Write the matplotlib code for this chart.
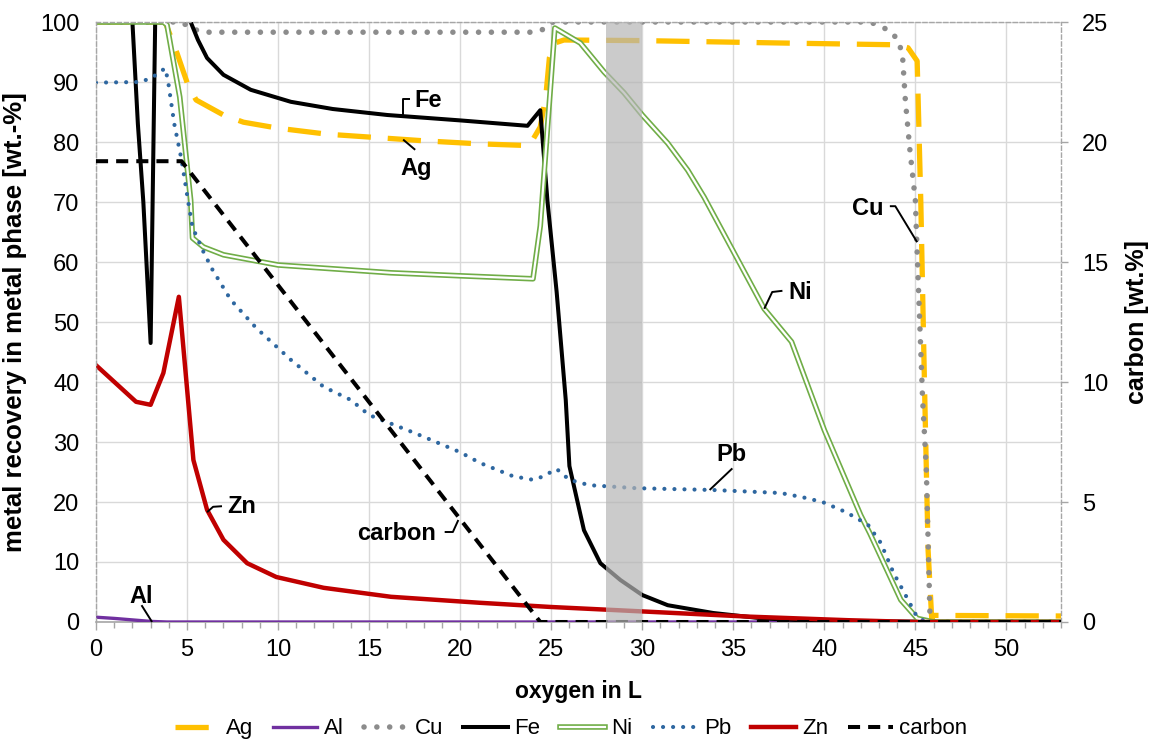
import matplotlib
matplotlib.use('Agg')
import matplotlib.pyplot as plt
import matplotlib.patheffects as pe
from matplotlib.ticker import MultipleLocator

plt.rcParams['font.family'] = ['Liberation Sans', 'DejaVu Sans']

# ---------------- data ----------------
ag_x = [0, 3.8, 4.45, 5.05, 5.5, 7, 8.1, 10, 12.7, 15.6, 18, 21, 23.8, 24.4, 24.7, 24.9, 25.2, 25.7,
        30, 37.6, 44, 44.6, 45.1, 45.3, 45.5, 45.7, 45.9, 46.0, 53]
ag_y = [100, 100, 94.8, 89.5, 87, 84.5, 83.3, 82.3, 81.3, 80.7, 80.2, 79.7, 79.4, 82.5, 87.5, 94, 96.5, 97,
        96.9, 96.5, 96.2, 95.7, 93.5, 70, 40, 12, 0.5, 1.1, 1.0]

al_x = [0, 1, 2, 3, 3.9, 53]
al_y = [0.8, 0.6, 0.35, 0.1, 0, 0]

cu_x = [0, 4.7, 5.3, 6.1, 24.0, 24.6, 25.1, 42.5, 43.1, 43.7, 44.1, 44.3, 44.45, 44.7, 45.0, 45.1,
        45.4, 45.6, 45.8, 46, 53]
cu_y = [100, 100, 98.8, 98.3, 98.3, 98.8, 100, 100, 99.3, 98.3, 96.7, 94.2, 87, 78.7, 70.3, 61.5,
        37, 25.8, 1.5, 0, 0]

fe_x = [0, 2.0, 2.3, 2.6, 3.0, 3.25, 3.5, 4.5, 5.2, 5.6, 6.1, 7, 8.5, 10.7, 13, 16, 20, 23.7, 24.4,
        24.8, 25.3, 25.8, 26.0, 26.8, 27.7, 28.8, 30, 31.4, 33.9, 36.6, 40, 53]
fe_y = [100, 100, 83, 70, 46.5, 100, 104, 104, 100, 97, 94, 91.2, 88.7, 86.7, 85.5, 84.5, 83.6, 82.7, 85.3,
        70, 55, 37, 26, 15.3, 9.8, 7, 4.5, 2.8, 1.5, 0.6, 0.1, 0]

ni_x = [0, 3.7, 3.9, 4.6, 5.2, 5.3, 5.9, 7, 10, 16.2, 20, 24, 24.4, 25.2, 26.6, 27.9, 29, 30, 31.4,
        32.5, 33.4, 36.7, 38.2, 40, 42, 42.5, 44.2, 45.1, 46, 53]
ni_y = [100, 100, 99.5, 87.5, 70.3, 64, 62.5, 61.2, 59.5, 58.2, 57.7, 57.2, 66, 99, 96.5, 91.7, 88.2,
        84.5, 79.8, 75.3, 70.8, 52.2, 46.7, 32, 17.8, 14.8, 3.7, 0.6, 0, 0]

pb_x = [0, 2.5, 3.2, 3.8, 3.95, 4.3, 4.7, 5.05, 5.3, 5.9, 6.4, 7.4, 8.8, 10.7, 12.5, 14, 15, 17.5, 20,
        21.1, 22.9, 24, 24.5, 25.3, 26, 27.1, 29.7, 33.9, 37.6, 38.8, 39.9, 41.2, 42.4, 43.1, 43.8,
        44.6, 45.1, 45.6, 53]
pb_y = [89.9, 90, 91, 92.3, 90.3, 83, 77, 70.3, 65.8, 61.7, 58.7, 53.7, 49, 43.7, 39.2, 37, 34.5, 31.5,
        28.3, 26.5, 24.3, 23.7, 24.2, 25.5, 23.7, 22.8, 22.3, 22, 21.5, 20.8, 20, 18.3, 16.2, 13.2,
        8.2, 3.7, 0.8, 0, 0]

zn_x = [0, 2.2, 3.0, 3.7, 4.55, 5.35, 6.1, 7, 8.3, 9.9, 12.5, 16.2, 21.1, 25, 28.4, 35.8, 41.3, 45, 53]
zn_y = [42.8, 36.7, 36.2, 41.5, 54.2, 27, 18.7, 13.7, 9.8, 7.5, 5.7, 4.2, 3.2, 2.5, 2.0, 0.9, 0.3, 0, 0]

carbon_x = [0, 4.7, 24.4, 53]
carbon_y = [19.2, 19.2, 0, 0]

band = (28, 30)

x_ticks = [0, 5, 10, 15, 20, 25, 30, 35, 40, 45, 50]
y_ticks = [0, 10, 20, 30, 40, 50, 60, 70, 80, 90, 100]
y2_ticks = [0, 5, 10, 15, 20, 25]

# label text, label position, leader polyline (data coords of left axis)
annotations = [
    ("Fe", (17.5, 86.9), 'left', [(16.85, 84.5), (16.85, 87.2), (17.25, 87.2)]),
    ("Ag", (17.6, 75.6), 'center', [(16.87, 80.4), (17.53, 78.7)]),
    ("Cu", (42.4, 69.0), 'center', [(43.6, 69.3), (43.9, 69.3), (45.1, 63.3)]),
    ("Ni", (38.65, 55.0), 'center', [(37.7, 55.2), (37.14, 55.0), (36.7, 52.2)]),
    ("Pb", (34.9, 28.0), 'center', [(34.95, 25.6), (33.7, 22.0)]),
    ("Zn", (8.0, 19.2), 'center', [(6.92, 19.3), (6.43, 19.2), (6.1, 18.3)]),
    ("carbon", (18.7, 14.8), 'right', [(19.15, 15.0), (19.6, 15.0), (19.9, 17.0)]),
    ("Al", (2.5, 4.3), 'center', [(2.5, 2.8), (3.08, 0.0)]),
]

# ---------------- figure ----------------
W, H = 1149, 756
fig = plt.figure(figsize=(W / 100, H / 100), dpi=100)
ax = fig.add_axes([96 / W, 1 - 622 / H, (1061 - 96) / W, 600 / H])
ax2 = ax.twinx()

grid_c = '#D9D9D9'
border_c = '#A6A6A6'

ax.set_xlim(0, 53)
ax.set_ylim(0, 100)
ax2.set_ylim(0, 25)
ax.set_xticks(x_ticks)
ax.xaxis.set_minor_locator(MultipleLocator(1))
ax.set_yticks(y_ticks)
ax2.set_yticks(y2_ticks)
ax.grid(True, which='major', color=grid_c, lw=1.0, zorder=0)
ax.set_axisbelow(True)

h_ag, = ax.plot(ag_x, ag_y, color='#FFC000', lw=3.8, ls=(0, (6.3, 3.2)), label='Ag', zorder=3)
h_al, = ax.plot(al_x, al_y, color='#7030A0', lw=2.4, label='Al', zorder=3)
h_cu, = ax.plot(cu_x, cu_y, color='#8C8C8C', lw=4.0, ls=(0, (0.01, 2.3)), dash_capstyle='round',
                label='Cu', zorder=3)
h_fe, = ax.plot(fe_x, fe_y, color='black', lw=2.9, label='Fe', zorder=3)
h_ni, = ax.plot(ni_x, ni_y, color='white', lw=1.6, label='Ni', zorder=3,
                path_effects=[pe.Stroke(linewidth=4.0, foreground='#70AD47'), pe.Normal()])
h_pb, = ax.plot(pb_x, pb_y, color='#2E67A0', lw=3.0, ls=(0, (0.01, 2.4)), dash_capstyle='round',
                label='Pb', zorder=3)
h_zn, = ax.plot(zn_x, zn_y, color='#C00000', lw=3.2, label='Zn', zorder=3)
h_c, = ax2.plot(carbon_x, carbon_y, color='black', lw=2.9, ls=(0, (3, 2)), label='carbon', zorder=3)

ax2.axvspan(band[0], band[1], color='#B5B5B5', alpha=0.7, lw=0, zorder=5)

# annotations
for txt, pos, ha, pts in annotations:
    ax.text(pos[0], pos[1], txt, ha=ha, va='center', fontsize=17, fontweight='bold', zorder=6)
    ax.plot([p[0] for p in pts], [p[1] for p in pts], color='black', lw=1.4, zorder=6,
            solid_capstyle='butt', clip_on=False)

# spines
for a in (ax, ax2):
    for s in ('left', 'right', 'top', 'bottom'):
        a.spines[s].set_visible(False)
ax.spines['bottom'].set_visible(True)
ax.spines['bottom'].set_color(border_c)
ax.spines['bottom'].set_linewidth(1.2)
for s in ('left', 'right', 'top'):
    ax2.spines[s].set_visible(True)
    ax2.spines[s].set_color(border_c)
    ax2.spines[s].set_linewidth(1.0)
    ax2.spines[s].set_linestyle((0, (3, 2)))

# ticks
ax.tick_params(axis='x', which='major', direction='out', length=6, width=1, color=border_c,
               labelsize=17, pad=6)
ax.tick_params(axis='x', which='minor', direction='out', length=4, width=1, color=border_c)
ax.tick_params(axis='y', length=0, labelsize=17, pad=12)
ax2.tick_params(axis='y', direction='out', length=5, width=1, color=border_c, labelsize=17, pad=10)

ax.set_xlabel('oxygen in L', fontsize=16.5, fontweight='bold', labelpad=14)
ax.set_ylabel('metal recovery in metal phase [wt.-%]', fontsize=18.5, fontweight='bold', labelpad=9)
ax2.set_ylabel('carbon [wt.%]', fontsize=18, fontweight='bold', labelpad=12)

handles = [h_ag, h_al, h_cu, h_fe, h_ni, h_pb, h_zn, h_c]
fig.legend(handles, [h.get_label() for h in handles], loc='center', bbox_to_anchor=(0.497, 0.036),
           ncol=8, frameon=False, fontsize=16, handlelength=2.0, handletextpad=0.3,
           columnspacing=0.9)

fig.savefig('out.png', dpi=100)
